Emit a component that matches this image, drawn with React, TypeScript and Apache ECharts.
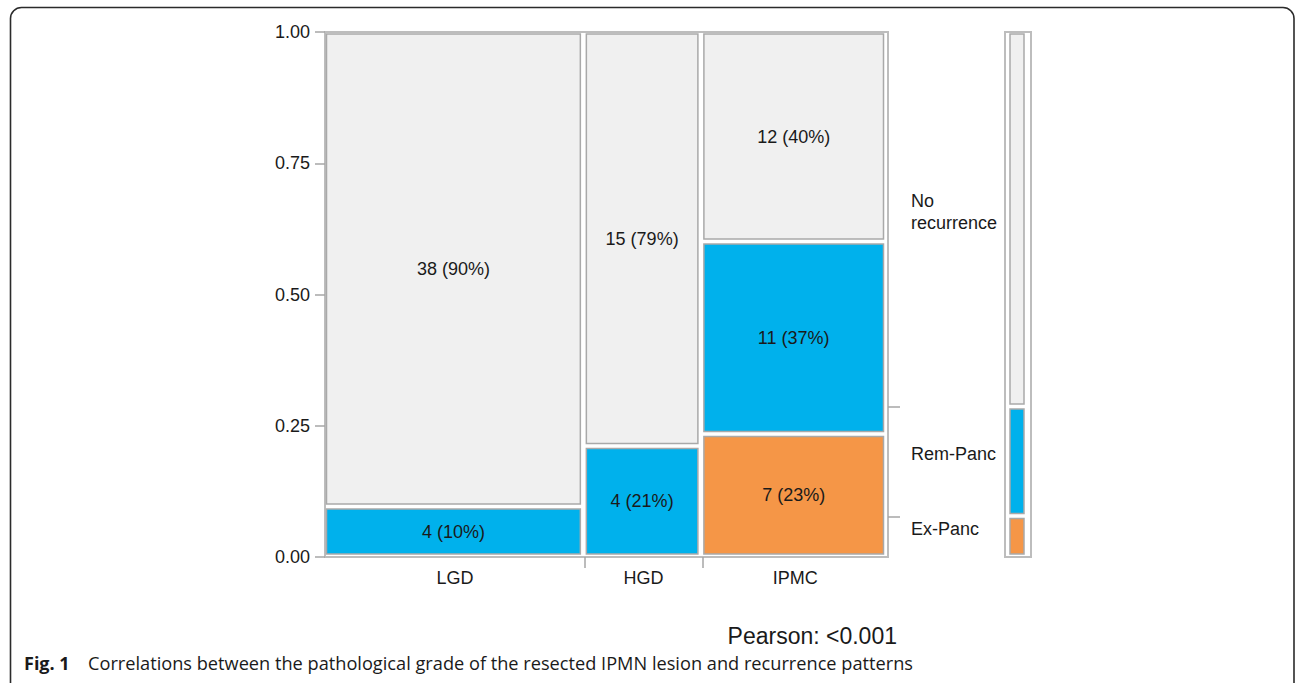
import React, { useEffect, useRef } from "react";
import * as echarts from "echarts";

// Pathological grade of the resected lesion (columns of the mosaic)
const grades = ["LGD", "HGD", "IPMC"];
// Recurrence pattern, stacked from the bottom up
const outcomes = ["Ex-Panc", "Rem-Panc", "No\nrecurrence"];
const exPanc = [0, 0, 7];
const remPanc = [4, 4, 11];
const noRecurrence = [38, 15, 12];
const outcomeColors = ["#f59647", "#00b1ec", "#f0f0f0"];
const yTicks = [0, 0.25, 0.5, 0.75, 1];
const pValueText = "Pearson: <0.001";
const captionLabel = "Fig. 1";
const captionText =
  "Correlations between the pathological grade of the resected IPMN lesion and recurrence patterns";

const FONT = "Arial, Liberation Sans, sans-serif";
const CAPTION_FONT = "Open Sans, Noto Sans, sans-serif";
const TEXT_COLOR = "#1a1a1a";
const TILE_STROKE = "#a9a9a9";
const PANEL_STROKE = "#bdbdbd";
const GRID_HEIGHT = 525;
// outcome names sit slightly above the middle of their marginal segment
const OUTCOME_LABEL_LIFT = 8 / GRID_HEIGHT;

function buildModel() {
  const counts = [exPanc, remPanc, noRecurrence];
  const colTotals = grades.map((_, i) => counts.reduce((s, row) => s + row[i], 0));
  const total = colTotals.reduce((a, b) => a + b, 0);

  // column edges along x (in patient counts)
  const xEdges = [0];
  colTotals.forEach((t) => xEdges.push(xEdges[xEdges.length - 1] + t));
  const xCenters = grades.map((_, i) => (xEdges[i] + xEdges[i + 1]) / 2);

  // tiles: [x0, x1, y0, y1, count, pct, outcomeIndex]
  const tiles: number[][] = [];
  grades.forEach((_, i) => {
    let y = 0;
    counts.forEach((row, k) => {
      const n = row[i];
      if (n <= 0) return;
      const f = n / colTotals[i];
      tiles.push([xEdges[i], xEdges[i + 1], y, y + f, n, Math.round(f * 100), k]);
      y += f;
    });
  });

  // marginal distribution of the outcomes
  const rowTotals = counts.map((row) => row.reduce((a, b) => a + b, 0));
  const margin: number[][] = [];
  const yEdges = [0];
  rowTotals.forEach((n, k) => {
    const y0 = yEdges[yEdges.length - 1];
    const y1 = y0 + n / total;
    yEdges.push(y1);
    margin.push([0, 1, y0, y1, n, k]);
  });
  const yLabelPos = outcomes.map(
    (_, k) => (yEdges[k] + yEdges[k + 1]) / 2 + OUTCOME_LABEL_LIFT
  );

  return { total, xEdges, xCenters, tiles, margin, yEdges, yLabelPos };
}

function nearestIndex(list: number[], v: number) {
  let best = 0;
  list.forEach((c, i) => {
    if (Math.abs(c - v) < Math.abs(list[best] - v)) best = i;
  });
  return best;
}

function tileRect(api: any, gl: number, gr: number, gt: number, gb: number) {
  const p0 = api.coord([api.value(0), api.value(3)]);
  const p1 = api.coord([api.value(1), api.value(2)]);
  return {
    x: p0[0] + gl,
    y: p0[1] + gt,
    width: p1[0] - p0[0] - gl - gr,
    height: p1[1] - p0[1] - gt - gb,
  };
}

export default function App() {
  const ref = useRef<HTMLDivElement>(null);

  useEffect(() => {
    if (!ref.current) return;
    const chart = echarts.init(ref.current, null, { renderer: "svg" });
    const m = buildModel();

    const tickStyle = { color: "#a6a6a6", width: 1.5 };
    const labelStyle = { fontSize: 18, color: TEXT_COLOR, fontFamily: FONT };

    const option: any = {
      animation: false,
      backgroundColor: "#ffffff",
      textStyle: { fontFamily: FONT },
      grid: [
        {
          left: 325,
          top: 32,
          width: 563,
          height: GRID_HEIGHT,
          show: true,
          borderColor: PANEL_STROKE,
          borderWidth: 2,
          backgroundColor: "transparent",
        },
        {
          left: 1005,
          top: 32,
          width: 26,
          height: GRID_HEIGHT,
          show: true,
          borderColor: PANEL_STROKE,
          borderWidth: 2,
          backgroundColor: "transparent",
        },
      ],
      xAxis: [
        {
          type: "value",
          gridIndex: 0,
          min: 0,
          max: m.total,
          axisLine: { show: false },
          splitLine: { show: false },
          axisTick: {
            show: true,
            customValues: m.xEdges.slice(1, -1),
            length: 11,
            lineStyle: tickStyle,
          },
          axisLabel: {
            ...labelStyle,
            customValues: m.xCenters,
            formatter: (v: number) => grades[nearestIndex(m.xCenters, v)],
            margin: 12,
          },
        },
        { type: "value", gridIndex: 1, min: 0, max: 1, show: false },
      ],
      yAxis: [
        {
          type: "value",
          gridIndex: 0,
          min: 0,
          max: 1,
          interval: 0.25,
          axisLine: { show: false },
          splitLine: { show: false },
          axisTick: {
            show: true,
            customValues: yTicks,
            length: 10,
            lineStyle: tickStyle,
          },
          axisLabel: {
            ...labelStyle,
            customValues: yTicks,
            formatter: (v: number) => v.toFixed(2),
            margin: 15,
          },
        },
        {
          type: "value",
          gridIndex: 0,
          position: "right",
          min: 0,
          max: 1,
          axisLine: { show: false },
          splitLine: { show: false },
          axisTick: {
            show: true,
            customValues: m.yEdges.slice(1, -1),
            length: 12,
            lineStyle: tickStyle,
          },
          axisLabel: {
            ...labelStyle,
            customValues: m.yLabelPos,
            formatter: (v: number) => outcomes[nearestIndex(m.yLabelPos, v)],
            margin: 23,
            lineHeight: 22,
          },
        },
        { type: "value", gridIndex: 1, min: 0, max: 1, show: false },
      ],
      series: [
        {
          type: "custom",
          name: "mosaic",
          xAxisIndex: 0,
          yAxisIndex: 0,
          encode: { x: [0, 1], y: [2, 3] },
          data: m.tiles,
          renderItem: (_params: any, api: any) => {
            const r = tileRect(api, 1.5, 4.5, 2, 3);
            const k = api.value(6);
            return {
              type: "group",
              children: [
                {
                  type: "rect",
                  shape: r,
                  style: {
                    fill: outcomeColors[k],
                    stroke: TILE_STROKE,
                    lineWidth: 1.5,
                  },
                },
                {
                  type: "text",
                  style: {
                    text: `${api.value(4)} (${api.value(5)}%)`,
                    x: r.x + r.width / 2,
                    y: r.y + r.height / 2,
                    align: "center",
                    verticalAlign: "middle",
                    fill: TEXT_COLOR,
                    fontSize: 18,
                    fontFamily: FONT,
                  },
                },
              ],
            };
          },
        },
        {
          type: "custom",
          name: "margin",
          xAxisIndex: 1,
          yAxisIndex: 2,
          encode: { x: [0, 1], y: [2, 3] },
          data: m.margin,
          renderItem: (_params: any, api: any) => {
            const r = tileRect(api, 5, 7, 2, 3);
            return {
              type: "rect",
              shape: r,
              style: {
                fill: outcomeColors[api.value(5)],
                stroke: TILE_STROKE,
                lineWidth: 1.5,
              },
            };
          },
        },
      ],
      graphic: [
        {
          type: "rect",
          silent: true,
          shape: { x: 10.5, y: 7.5, width: 1283.5, height: 720, r: 11 },
          style: { fill: "none", stroke: "#2b2b2b", lineWidth: 1.6 },
        },
        {
          type: "text",
          silent: true,
          style: {
            text: pValueText,
            x: 897,
            y: 636,
            align: "right",
            verticalAlign: "middle",
            fill: TEXT_COLOR,
            fontSize: 23,
            fontFamily: FONT,
          },
        },
        {
          type: "text",
          silent: true,
          style: {
            text: captionLabel,
            x: 24,
            y: 663,
            align: "left",
            verticalAlign: "middle",
            fill: "#1a1a1a",
            fontSize: 18,
            fontWeight: "bold",
            fontFamily: CAPTION_FONT,
          },
        },
        {
          type: "text",
          silent: true,
          style: {
            text: captionText,
            x: 88,
            y: 663,
            align: "left",
            verticalAlign: "middle",
            fill: "#1a1a1a",
            fontSize: 18.2,
            fontFamily: CAPTION_FONT,
          },
        },
      ],
    };

    chart.setOption(option);
    return () => chart.dispose();
  }, []);

  return (
    <div
      ref={ref}
      style={{ position: "fixed", left: 0, top: 0, width: 1295, height: 683 }}
    />
  );
}
